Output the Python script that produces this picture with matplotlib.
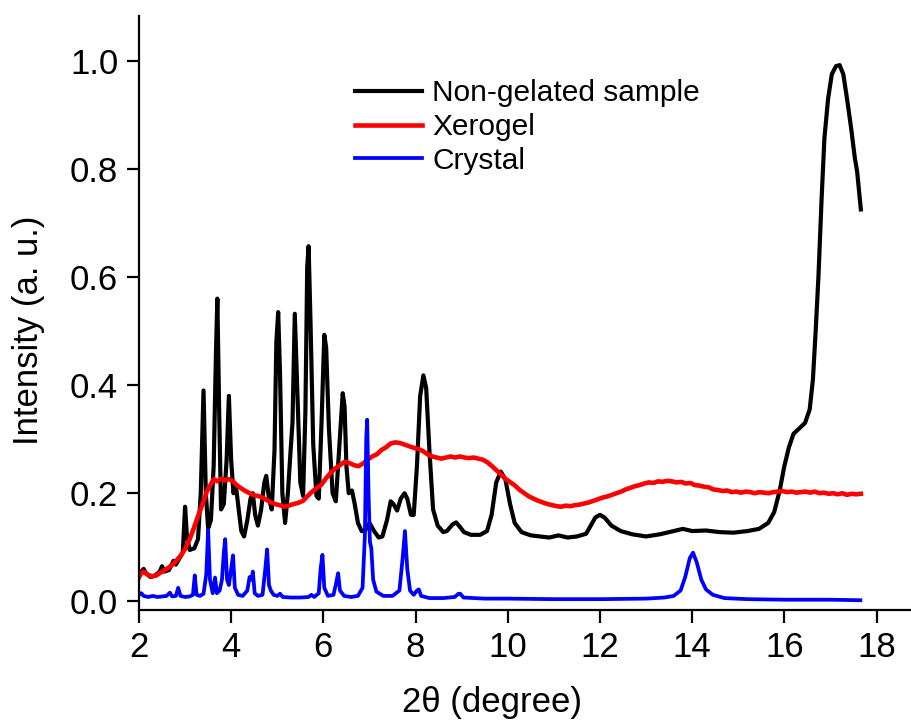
import matplotlib
matplotlib.use('Agg')
import matplotlib.pyplot as plt

plt.rcParams['font.family'] = ['Liberation Sans', 'DejaVu Sans']

# Non-gelated sample (black)
x_nongel = [2.00, 2.05, 2.10, 2.15, 2.25, 2.35, 2.45, 2.50, 2.55, 2.65, 2.75, 2.80,
            2.88, 2.95, 3.00, 3.04, 3.10, 3.20, 3.28, 3.34, 3.40, 3.45, 3.50, 3.56,
            3.62, 3.67, 3.70, 3.74, 3.78, 3.84, 3.90, 3.95, 4.00, 4.05, 4.10, 4.15,
            4.22, 4.28, 4.35, 4.42, 4.47, 4.52, 4.58, 4.65, 4.72, 4.76, 4.82, 4.88,
            4.94, 4.98, 5.02, 5.06, 5.11, 5.17, 5.23, 5.29, 5.33, 5.38, 5.43, 5.50,
            5.56, 5.61, 5.65, 5.68, 5.72, 5.78, 5.85, 5.90, 5.96, 6.02, 6.06, 6.12,
            6.20, 6.27, 6.35, 6.42, 6.46, 6.50, 6.55, 6.62, 6.68, 6.75, 6.83, 6.90,
            7.00, 7.10, 7.20, 7.28, 7.38, 7.46, 7.52, 7.60, 7.68, 7.76, 7.82, 7.90,
            7.96, 8.03, 8.10, 8.17, 8.23, 8.30, 8.38, 8.48, 8.60, 8.68, 8.80, 8.88,
            8.96, 9.05, 9.20, 9.40, 9.55, 9.65, 9.75, 9.85, 9.95, 10.05, 10.15, 10.30,
            10.50, 10.70, 10.90, 11.10, 11.30, 11.50, 11.70, 11.80, 11.90, 12.00, 12.10,
            12.25, 12.45, 12.70, 13.00, 13.30, 13.60, 13.80, 14.00, 14.30, 14.60, 14.90,
            15.20, 15.45, 15.65, 15.78, 15.90, 16.00, 16.10, 16.20, 16.35, 16.45, 16.55,
            16.62, 16.68, 16.74, 16.81, 16.87, 16.95, 17.03, 17.12, 17.20, 17.28, 17.36,
            17.45, 17.53, 17.58, 17.62, 17.66]
y_nongel = [0.045, 0.055, 0.060, 0.052, 0.045, 0.048, 0.055, 0.065, 0.055, 0.058, 0.075, 0.068,
            0.080, 0.090, 0.175, 0.120, 0.095, 0.098, 0.115, 0.200, 0.390, 0.200, 0.135, 0.150,
            0.250, 0.460, 0.560, 0.350, 0.170, 0.180, 0.260, 0.380, 0.260, 0.200, 0.215, 0.180,
            0.130, 0.120, 0.150, 0.190, 0.200, 0.160, 0.140, 0.170, 0.220, 0.232, 0.190, 0.170,
            0.280, 0.480, 0.535, 0.420, 0.200, 0.145, 0.200, 0.280, 0.330, 0.532, 0.400, 0.220,
            0.195, 0.350, 0.620, 0.657, 0.520, 0.290, 0.195, 0.190, 0.330, 0.493, 0.470, 0.320,
            0.200, 0.185, 0.290, 0.385, 0.360, 0.250, 0.200, 0.205, 0.180, 0.145, 0.130, 0.130,
            0.145, 0.130, 0.118, 0.120, 0.150, 0.185, 0.180, 0.168, 0.190, 0.200, 0.190, 0.160,
            0.160, 0.250, 0.380, 0.418, 0.395, 0.280, 0.170, 0.140, 0.128, 0.130, 0.142, 0.146,
            0.138, 0.128, 0.123, 0.123, 0.130, 0.160, 0.220, 0.240, 0.225, 0.180, 0.145, 0.128,
            0.122, 0.120, 0.118, 0.122, 0.118, 0.120, 0.125, 0.140, 0.155, 0.160, 0.155,
            0.140, 0.130, 0.124, 0.120, 0.124, 0.130, 0.134, 0.130, 0.131, 0.128, 0.127,
            0.130, 0.134, 0.145, 0.165, 0.205, 0.250, 0.285, 0.310, 0.322, 0.330, 0.355,
            0.410, 0.500, 0.600, 0.747, 0.857, 0.930, 0.975, 0.990, 0.992, 0.975, 0.930,
            0.875, 0.820, 0.795, 0.760, 0.725]

# Xerogel (red)
x_xerogel = [2.00, 2.05, 2.10, 2.18, 2.28, 2.38, 2.50, 2.60, 2.70, 2.80, 2.90, 3.00,
             3.10, 3.20, 3.30, 3.40, 3.48, 3.55, 3.62, 3.70, 3.78, 3.86, 3.95, 4.04,
             4.12, 4.20, 4.29, 4.40, 4.51, 4.62, 4.72, 4.84, 4.95, 5.05, 5.15, 5.25,
             5.35, 5.45, 5.56, 5.66, 5.76, 5.86, 5.96, 6.06, 6.16, 6.26, 6.36, 6.46,
             6.56, 6.66, 6.76, 6.86, 6.96, 7.06, 7.16, 7.26, 7.36, 7.46, 7.56, 7.66,
             7.76, 7.86, 7.96, 8.06, 8.16, 8.26, 8.36, 8.46, 8.56, 8.66, 8.76, 8.86,
             8.96, 9.06, 9.16, 9.26, 9.36, 9.46, 9.56, 9.66, 9.76, 9.86, 9.96, 10.06,
             10.16, 10.26, 10.36, 10.46, 10.56, 10.66, 10.76, 10.86, 10.96, 11.06, 11.16,
             11.26, 11.36, 11.46, 11.56, 11.66, 11.76, 11.86, 11.96, 12.06, 12.16, 12.26,
             12.36, 12.46, 12.56, 12.66, 12.76, 12.86, 12.96, 13.06, 13.16, 13.26, 13.36,
             13.46, 13.56, 13.66, 13.76, 13.86, 13.96, 14.06, 14.16, 14.26, 14.36, 14.46,
             14.56, 14.66, 14.76, 14.86, 14.96, 15.06, 15.16, 15.26, 15.36, 15.46, 15.56,
             15.66, 15.76, 15.86, 15.96, 16.06, 16.16, 16.26, 16.36, 16.46, 16.56, 16.66,
             16.76, 16.86, 16.96, 17.06, 17.16, 17.26, 17.36, 17.46, 17.56, 17.66]
y_xerogel = [0.045, 0.052, 0.055, 0.050, 0.046, 0.048, 0.055, 0.060, 0.066, 0.074, 0.084, 0.097,
             0.115, 0.138, 0.162, 0.185, 0.205, 0.215, 0.226, 0.222, 0.227, 0.224, 0.226, 0.222,
             0.215, 0.210, 0.205, 0.200, 0.196, 0.194, 0.190, 0.184, 0.180, 0.178, 0.175, 0.177,
             0.180, 0.182, 0.186, 0.195, 0.203, 0.210, 0.216, 0.228, 0.238, 0.246, 0.252, 0.258,
             0.256, 0.252, 0.250, 0.255, 0.262, 0.268, 0.272, 0.280, 0.285, 0.292, 0.294, 0.293,
             0.290, 0.287, 0.284, 0.282, 0.278, 0.272, 0.268, 0.266, 0.264, 0.266, 0.268, 0.266,
             0.268, 0.266, 0.265, 0.266, 0.264, 0.262, 0.257, 0.250, 0.242, 0.234, 0.226, 0.220,
             0.214, 0.206, 0.200, 0.194, 0.190, 0.186, 0.183, 0.180, 0.178, 0.176, 0.175,
             0.177, 0.176, 0.178, 0.179, 0.181, 0.183, 0.186, 0.189, 0.192, 0.194, 0.197,
             0.200, 0.203, 0.207, 0.210, 0.213, 0.215, 0.218, 0.220, 0.219, 0.222, 0.221,
             0.223, 0.222, 0.220, 0.221, 0.218, 0.219, 0.215, 0.214, 0.212, 0.211, 0.207,
             0.206, 0.204, 0.205, 0.202, 0.203, 0.201, 0.203, 0.202, 0.200, 0.202, 0.201,
             0.200, 0.202, 0.203, 0.204, 0.202, 0.203, 0.201, 0.202, 0.203, 0.201, 0.203,
             0.200, 0.201, 0.199, 0.200, 0.198, 0.200, 0.197, 0.199, 0.198, 0.199]

# Crystal (blue)
x_crystal = [2.00, 2.05, 2.10, 2.20, 2.30, 2.40, 2.50, 2.60, 2.67, 2.72, 2.80, 2.85,
             2.90, 3.00, 3.10, 3.17, 3.21, 3.25, 3.32, 3.40, 3.46, 3.50, 3.54, 3.60,
             3.65, 3.69, 3.75, 3.80, 3.84, 3.87, 3.91, 3.95, 4.00, 4.04, 4.08, 4.15,
             4.25, 4.35, 4.40, 4.44, 4.47, 4.51, 4.58, 4.68, 4.74, 4.78, 4.82, 4.86,
             4.92, 5.00, 5.06, 5.12, 5.30, 5.50, 5.68, 5.74, 5.80, 5.90, 5.94, 5.98,
             6.02, 6.10, 6.22, 6.28, 6.32, 6.36, 6.45, 6.60, 6.75, 6.85, 6.90, 6.93,
             6.95, 6.98, 7.01, 7.04, 7.08, 7.15, 7.30, 7.50, 7.65, 7.72, 7.77, 7.82,
             7.88, 7.96, 8.03, 8.07, 8.12, 8.30, 8.60, 8.85, 8.93, 8.97, 9.04, 9.50,
             10.00, 11.00, 12.00, 13.00, 13.40, 13.60, 13.75, 13.85, 13.95, 14.02, 14.10,
             14.20, 14.30, 14.45, 14.70, 15.20, 16.00, 17.00, 17.65]
y_crystal = [0.012, 0.015, 0.010, 0.008, 0.010, 0.008, 0.009, 0.010, 0.016, 0.009, 0.010, 0.025,
             0.010, 0.008, 0.009, 0.012, 0.048, 0.012, 0.010, 0.014, 0.050, 0.132, 0.040, 0.015,
             0.044, 0.015, 0.020, 0.040, 0.090, 0.115, 0.040, 0.030, 0.060, 0.085, 0.025, 0.012,
             0.010, 0.020, 0.045, 0.040, 0.055, 0.015, 0.010, 0.012, 0.060, 0.096, 0.030, 0.020,
             0.012, 0.010, 0.014, 0.008, 0.007, 0.007, 0.008, 0.012, 0.008, 0.015, 0.060, 0.086,
             0.025, 0.010, 0.012, 0.035, 0.052, 0.020, 0.010, 0.008, 0.010, 0.025, 0.120, 0.300,
             0.336, 0.200, 0.110, 0.098, 0.040, 0.018, 0.010, 0.010, 0.020, 0.080, 0.130, 0.060,
             0.020, 0.012, 0.020, 0.022, 0.010, 0.006, 0.006, 0.008, 0.014, 0.014, 0.007, 0.005,
             0.005, 0.004, 0.004, 0.005, 0.007, 0.010, 0.020, 0.045, 0.080, 0.090, 0.072,
             0.040, 0.022, 0.012, 0.006, 0.004, 0.003, 0.003, 0.002]

x_ticks = [2, 4, 6, 8, 10, 12, 14, 16, 18]
y_ticks = [0.0, 0.2, 0.4, 0.6, 0.8, 1.0]

fig = plt.figure(figsize=(9.12, 7.24), dpi=100)
ax = fig.add_axes([0.1524, 0.1575, 0.8476, 0.8205])

ax.plot(x_nongel, y_nongel, color='black', lw=3.0, label='Non-gelated sample')
ax.plot(x_xerogel, y_xerogel, color='#ff0000', lw=3.3, label='Xerogel')
ax.plot(x_crystal, y_crystal, color='#0000ff', lw=2.7, label='Crystal')

ax.set_xlim(2, 18.77)
ax.set_ylim(-0.016, 1.083)
ax.set_xticks(x_ticks)
ax.set_yticks(y_ticks)
ax.set_yticklabels([f'{v:.1f}' for v in y_ticks])

for side in ['top', 'right']:
    ax.spines[side].set_visible(False)
for side in ['left', 'bottom']:
    ax.spines[side].set_linewidth(1.6)

ax.tick_params(direction='out', length=9, width=1.6, labelsize=25, pad=6)

ax.set_xlabel('2θ (degree)', fontsize=25)
ax.set_ylabel('Intensity (a. u.)', fontsize=25)
ax.xaxis.set_label_coords(0.457, -0.128)
ax.yaxis.set_label_coords(-0.121, 0.471)

ax.legend(loc='upper left', bbox_to_anchor=(355 / 912, 1 - 79 / 724),
          bbox_transform=fig.transFigure, frameon=False, fontsize=21.5,
          handlelength=2.25, handletextpad=0.33, labelspacing=0.2,
          borderpad=0, borderaxespad=0)

fig.savefig('out.png', dpi=100)
